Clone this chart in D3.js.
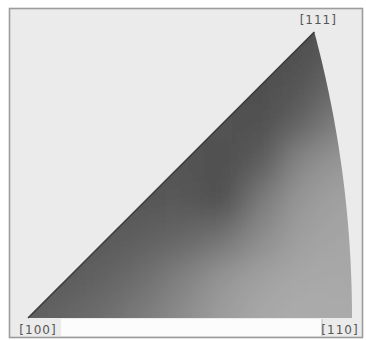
<!DOCTYPE html>
<html><head><meta charset="utf-8">
<script src="https://cdn.jsdelivr.net/npm/d3@7"></script>
<style>body{margin:0;background:#fff;overflow:hidden}</style>
</head><body>
<svg id="c" width="366" height="340"></svg>
<script>
// Stereographic grid positions (projected coordinates, axis [100])
const gridX = [0, 0.05, 0.10, 0.15, 0.20, 0.25, 0.30, 0.35, 0.40];
const gridY = [0.35, 0.30, 0.25, 0.20, 0.15, 0.10, 0.05, 0.00];
// Gray level (0 = black, 255 = white) read at each grid point
const grayLevels = [
  [80, 80, 80, 80, 80, 80, 80, 80, 88],
  [80, 80, 80, 80, 80, 80, 80, 84, 106],
  [82, 82, 82, 82, 82, 82, 80, 100, 128],
  [84, 84, 84, 84, 84, 80, 92, 136, 152],
  [86, 86, 86, 86, 88, 78, 124, 152, 162],
  [90, 90, 90, 96, 104, 116, 142, 160, 166],
  [92, 92, 100, 112, 130, 150, 162, 168, 168],
  [94, 102, 112, 126, 142, 158, 168, 172, 170]
];
// Poles of the standard triangle
const poleLabels = ["[100]", "[110]", "[111]"];
const poleDirs = [[1, 0, 0], [1, 1, 0], [1, 1, 1]];

const svg = d3.select("#c");
const x = d3.scaleLinear().domain([0, 0.41421]).range([28, 352]);
const y = d3.scaleLinear().domain([0, 0.36603]).range([318, 32]);

function project(d) {
  const n = Math.hypot(d[0], d[1], d[2]);
  return [d[1] / (n + d[0]), d[2] / (n + d[0])];
}
const P = poleDirs.map(project);

// triangle outline: [100] -> [110] along bottom, arc [110] -> [111], line back to [100]
const tMax = Math.atan(1 / Math.SQRT2);
const arcPts = d3.range(0, 41).map(i => {
  const t = tMax * i / 40;
  return project([Math.cos(t) / Math.SQRT2, Math.cos(t) / Math.SQRT2, Math.sin(t)]);
});
const outline = [P[0], ...arcPts, P[2]];
const line = d3.line().x(d => x(d[0])).y(d => y(d[1]));

const defs = svg.append("defs");
defs.append("clipPath").attr("id", "tri").append("path").attr("d", line(outline) + "Z");
const f = defs.append("filter").attr("id", "blur").attr("x", "-20%").attr("y", "-20%").attr("width", "140%").attr("height", "140%");
f.append("feGaussianBlur").attr("stdDeviation", 16);
const f2 = defs.append("filter").attr("id", "soft");
f2.append("feGaussianBlur").attr("stdDeviation", 0.7);

// frame
svg.append("rect").attr("x", 9.5).attr("y", 8.5).attr("width", 353).attr("height", 329)
  .attr("fill", "#ebebeb").attr("stroke", "#9c9c9c").attr("stroke-width", 1.6);
// white strip under the triangle
svg.append("rect").attr("x", x(0) + 33).attr("y", y(0) + 1).attr("width", x(P[1][0]) - x(0) - 63).attr("height", 17)
  .attr("fill", "#fcfcfc");
svg.append("line").attr("x1", x(P[1][0]) - 30).attr("x2", x(P[1][0]) - 30).attr("y1", y(0) + 1).attr("y2", y(0) + 18)
  .attr("stroke", "#bbb");

// shaded density
const step = x(0.05) - x(0);
const g = svg.append("g").attr("clip-path", "url(#tri)").append("g").attr("filter", "url(#blur)");
grayLevels.forEach((row, ri) => row.forEach((v, ci) => {
  const cx = x(gridX[ci]), cy = y(gridY[ri]);
  let x0 = cx - step / 2, x1 = cx + step / 2, y0 = cy - step / 2, y1 = cy + step / 2;
  if (ci === 0) x0 -= 60; if (ci === row.length - 1) x1 += 60;
  if (ri === 0) y0 -= 60; if (ri === grayLevels.length - 1) y1 += 60;
  g.append("rect").attr("x", x0).attr("y", y0).attr("width", x1 - x0 + 0.5).attr("height", y1 - y0 + 0.5)
    .attr("fill", d3.rgb(v, v, v));
}));

// darker edge along [100]-[111]
svg.append("path").attr("d", line([P[0], P[2]])).attr("stroke", "#3c3c3c").attr("stroke-width", 1.6)
  .attr("fill", "none").attr("filter", "url(#soft)");

// labels
const lab = [
  {i: 0, dx: 10, dy: 12},
  {i: 1, dx: -12, dy: 12},
  {i: 2, dx: 4, dy: -12}
];
lab.forEach(l => {
  svg.append("text").attr("x", x(P[l.i][0]) + l.dx).attr("y", y(P[l.i][1]) + l.dy)
    .attr("text-anchor", "middle").attr("dominant-baseline", "middle")
    .attr("font-family", "DejaVu Sans").attr("font-size", 12).attr("letter-spacing", 1)
    .attr("fill", "#555").text(poleLabels[l.i]);
});
</script>
</body></html>
